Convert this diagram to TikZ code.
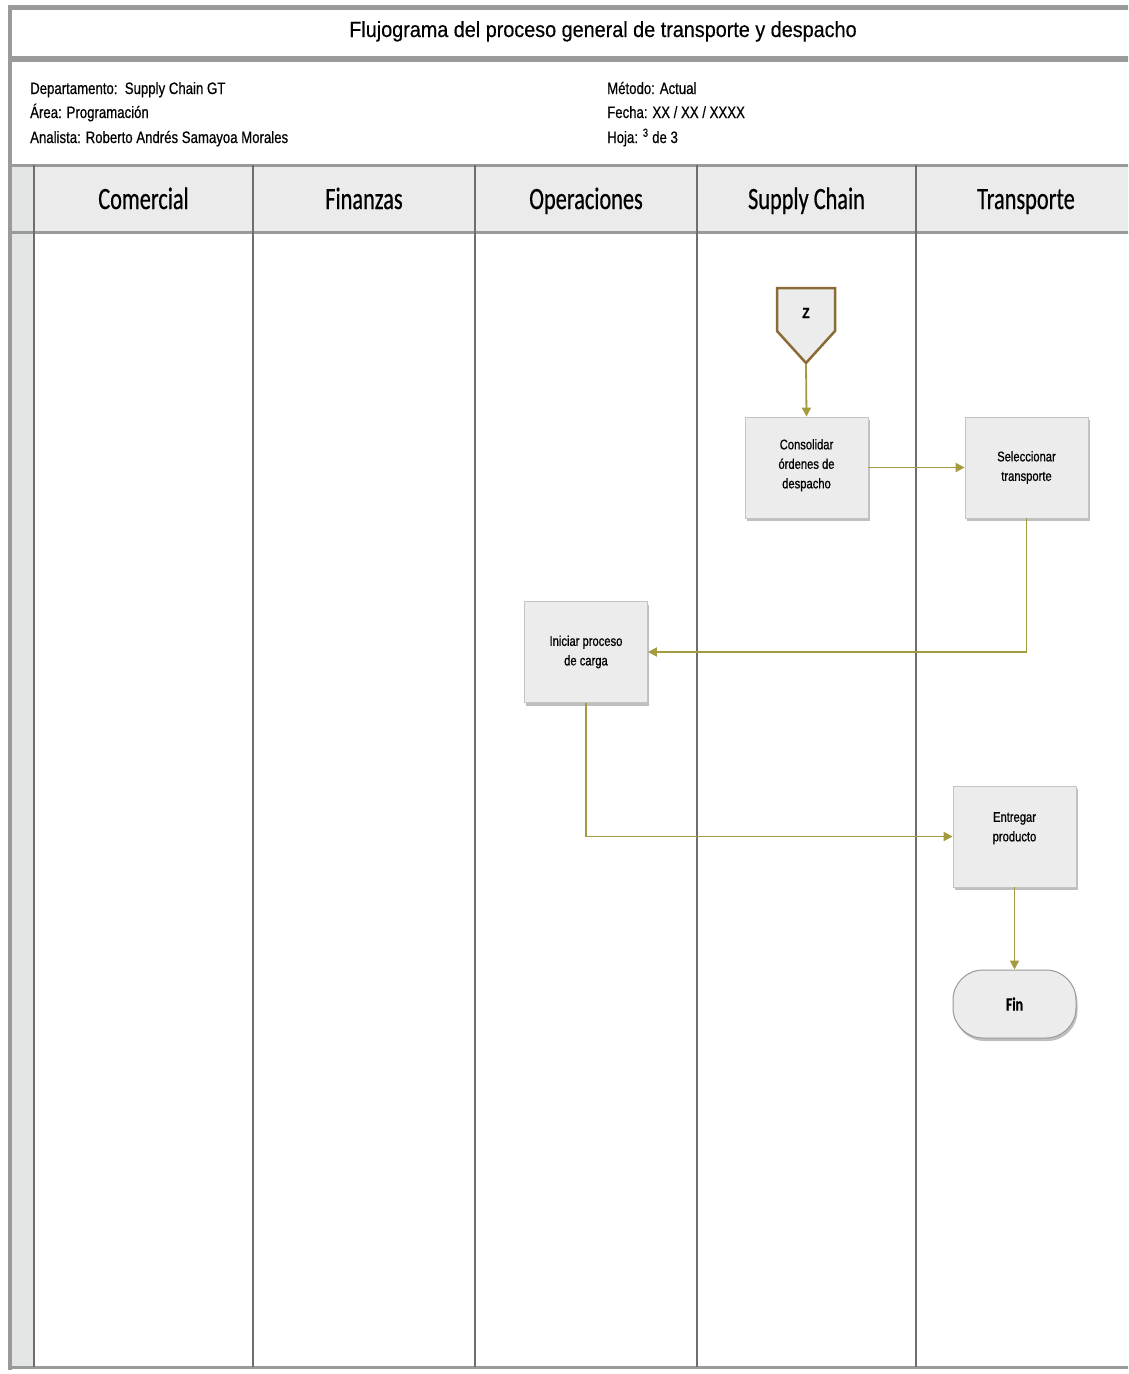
\documentclass[tikz,border=0pt]{standalone}
\usepackage{fontspec}
\setmainfont{Liberation Sans}
\newfontfamily\titlefont[FakeStretch=0.9,FakeBold=0.4]{Liberation Sans}
\newfontfamily\infofont[FakeStretch=0.8,FakeBold=0.5]{Liberation Sans}
\newfontfamily\lanefont[FakeStretch=0.72,FakeBold=0.5]{Carlito}
\newfontfamily\boxfont[FakeStretch=0.8,FakeBold=0.8]{Liberation Sans}
\usetikzlibrary{arrows.meta,shadows}

\definecolor{framegray}{HTML}{9A9A9A}
\definecolor{lanegray}{HTML}{6E6E6E}
\definecolor{headfill}{HTML}{EBEBEB}
\definecolor{stripfill}{HTML}{E4E6E6}
\definecolor{boxfill}{HTML}{ECECEC}
\definecolor{boxline}{HTML}{C4C4C4}
\definecolor{flowcol}{HTML}{A39B40}
\definecolor{connbrown}{HTML}{8A6A35}

\tikzset{
  titletext/.style={font=\titlefont\fontsize{22}{26}\selectfont, anchor=base, inner sep=0pt},
  infotext/.style={font=\infofont\fontsize{16.5}{20}\selectfont, anchor=base west, inner sep=0pt},
  lanetext/.style={font=\lanefont\fontsize{31}{34}\selectfont, anchor=base, inner sep=0pt},
  procbox/.style={draw=boxline, line width=0.8pt, fill=boxfill, minimum width=123pt,
    minimum height=101pt, align=center, inner sep=2pt,
    font=\boxfont\fontsize{14}{19.5}\selectfont,
    drop shadow={shadow xshift=1.5pt, shadow yshift=-3pt, fill=black!45, opacity=0.55}},
  termbox/.style={draw=black!40, line width=1pt, fill=boxfill, minimum width=123pt,
    minimum height=68pt, rounded corners=30pt,
    font=\lanefont\bfseries\fontsize{19}{22}\selectfont,
    drop shadow={shadow xshift=1.5pt, shadow yshift=-3pt, fill=black!45, opacity=0.55}},
  flow/.style={draw=flowcol, line width=1.8pt,
    -{Triangle[length=9pt,width=9pt,fill=flowcol]}},
  laneline/.style={draw=lanegray, line width=2pt},
}

\begin{document}
\begin{tikzpicture}[x=1pt,y=-1pt]
\useasboundingbox (0,0) rectangle (1128,1374);
\clip (0,0) rectangle (1128,1374);
\fill[white] (0,0) rectangle (1128,1374);

% header band and left strip
\fill[headfill] (12,166) rectangle (1140,232);
\fill[stripfill] (12,166) rectangle (33,1367);

% outer frame
\draw[framegray, line width=5pt] (8,7.5) -- (1140,7.5);
\draw[framegray, line width=4pt] (10,5) -- (10,1370);
\draw[framegray, line width=3pt] (8,1367.5) -- (1140,1367.5);
% title band bottom, info band bottom, header bottom
\fill[framegray] (12,56) rectangle (1140,62);
\draw[framegray, line width=3pt] (12,165) -- (1140,165);
\draw[framegray, line width=3pt] (12,232) -- (1140,232);

% lane separators
\foreach \lx in {34,253,475,697,916}
  \draw[laneline] (\lx,165) -- (\lx,1367);

% title and document data
\node[titletext] (title) at (603,37) {Flujograma del proceso general de transporte y despacho};
\node[infotext] (dep) at (30,94) {Departamento:\ \ Supply Chain GT};
\node[infotext] (area) at (30,118) {Área: Programación};
\node[infotext] (anal) at (30,143) {Analista: Roberto Andrés Samayoa Morales};
\node[infotext] (met) at (607,94) {Método: Actual};
\node[infotext] (fec) at (607,118) {Fecha: XX / XX / XXXX};
\node[infotext] (hoja) at (607,143) {Hoja: \textsuperscript{3} de 3};

% lane headers
\node[lanetext] (h1) at (143.5,209) {Comercial};
\node[lanetext] (h2) at (364,209) {Finanzas};
\node[lanetext] (h3) at (586,209) {Operaciones};
\node[lanetext] (h4) at (806.5,209) {Supply Chain};
\node[lanetext] (h5) at (1026,209) {Transporte};

% off-page connector
\draw[connbrown, line width=2.5pt, fill=boxfill, line join=miter]
  (777,288) -- (835,288) -- (835,331) -- (806,363) -- (777,331) -- cycle;
\node[font=\boxfont\bfseries\fontsize{15}{16}\selectfont] (z) at (806,313) {Z};
\coordinate (ztip) at (806,364);

% process steps
\node[procbox] (cons) at (806.5,467.5) {Consolidar\\órdenes de\\despacho\\[-12pt]};
\node[procbox] (sel) at (1026.5,467.5) {Seleccionar\\transporte};
\node[procbox] (ini) at (586,652) {Iniciar proceso\\de carga};
\node[procbox] (ent) at (1014.5,836.5) {Entregar\\producto\\[0pt]};
\node[termbox] (fin) at (1014.5,1004) {Fin};

% flow
\draw[flow] (ztip) -- (cons.north);
\draw[flow] (cons.east) -- (sel.west);
\draw[flow] (sel.south) |- (ini.east);
\draw[flow] (ini.south) |- (ent.west);
\draw[flow] (ent.south) -- (fin.north);
\end{tikzpicture}
\end{document}
